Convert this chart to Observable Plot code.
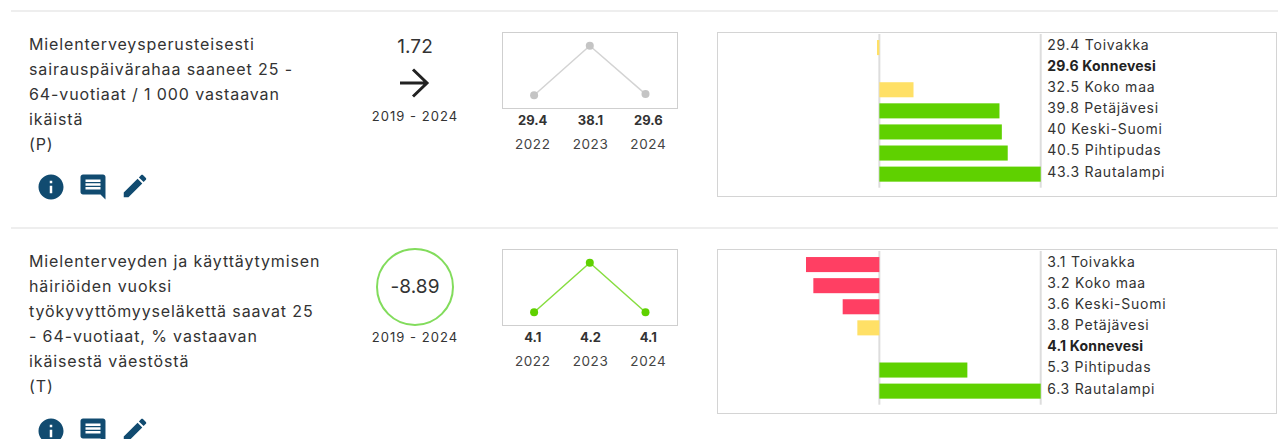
<!DOCTYPE html>
<html lang="fi">
<head>
<meta charset="utf-8">
<script src="https://cdn.jsdelivr.net/npm/d3@7"></script>
<script src="https://cdn.jsdelivr.net/npm/@observablehq/plot@0.6"></script>
<style>
html,body{margin:0;padding:0;background:#fff;}
#page{position:relative;width:1278px;height:439px;overflow:hidden;font-family:"Inter",sans-serif;color:#333;}
#page>*{position:absolute;}
.rule{left:11px;right:0;height:2px;background:#eeeeee;}
.title{left:29px;width:320px;font-size:16px;line-height:25px;letter-spacing:.88px;white-space:nowrap;}
.num{width:100px;text-align:center;font-size:19px;line-height:24px;letter-spacing:.1px;}
.period{width:120px;text-align:center;font-size:13px;line-height:18px;letter-spacing:1.05px;}
.circle{box-sizing:border-box;width:78px;height:78px;border:2px solid #82dc5c;border-radius:50%;}
svg.icon{width:30px;height:30px;fill:#114b70;}
.row-label text{letter-spacing:.75px;}
.row-home text{letter-spacing:.2px;}
.year-label text{letter-spacing:.6px;}
</style>
</head>
<body>
<div id="page"></div>
<script>
const years = ["2022", "2023", "2024"];
const period = "2019 - 2024";

const title1 = ["Mielenterveysperusteisesti", "sairauspäivärahaa saaneet 25 -", "64-vuotiaat / 1 000 vastaavan", "ikäistä", "(P)"];
const change1 = "1.72";
const trend1 = [29.4, 38.1, 29.6];
const names1 = ["Toivakka", "Konnevesi", "Koko maa", "Petäjävesi", "Keski-Suomi", "Pihtipudas", "Rautalampi"];
const values1 = [29.4, 29.6, 32.5, 39.8, 40, 40.5, 43.3];
const classes1 = ["mid", "mid", "mid", "high", "high", "high", "high"];

const title2 = ["Mielenterveyden ja käyttäytymisen", "häiriöiden vuoksi", "työkyvyttömyyseläkettä saavat 25", "- 64-vuotiaat, % vastaavan", "ikäisestä väestöstä", "(T)"];
const change2 = "-8.89";
const trend2 = [4.1, 4.2, 4.1];
const names2 = ["Toivakka", "Koko maa", "Keski-Suomi", "Petäjävesi", "Konnevesi", "Pihtipudas", "Rautalampi"];
const values2 = [3.1, 3.2, 3.6, 3.8, 4.1, 5.3, 6.3];
const classes2 = ["low", "low", "low", "mid", "mid", "high", "high"];

const home = "Konnevesi";
const FONT = "Inter, sans-serif";
const page = document.getElementById("page");

function place(el, left, top) {
  el.style.position = "absolute";
  el.style.left = left + "px";
  el.style.top = top + "px";
  el.style.background = "transparent";
  page.appendChild(el);
  return el;
}
function div(cls, left, top, html) {
  const d = document.createElement("div");
  d.className = cls;
  d.innerHTML = html;
  d.style.left = left + "px";
  d.style.top = top + "px";
  page.appendChild(d);
  return d;
}
function icon(path, left, top) {
  const h = `<svg class="icon" viewBox="0 0 24 24" style="position:absolute;left:${left}px;top:${top}px"><path d="${path}"/></svg>`;
  page.insertAdjacentHTML("beforeend", h);
}

function sparkline(values, color, top) {
  const data = years.map((year, i) => ({year, value: values[i]}));
  place(Plot.plot({
    width: 176, height: 77,
    marginTop: 13.3, marginBottom: 14.3, marginLeft: 0, marginRight: 0,
    x: {type: "point", domain: years, padding: 0, round: false, insetLeft: 31.6, insetRight: 33, axis: null},
    y: {domain: d3.extent(values), axis: null},
    style: {outline: "1.5px solid #cfcfcf", outlineOffset: "-1.5px", overflow: "visible"},
    marks: [
      Plot.line(data, {x: "year", y: "value", stroke: color, strokeWidth: 1.5, strokeOpacity: .75}),
      Plot.dot(data, {x: "year", y: "value", fill: color, r: 4})
    ]
  }), 501.5, top);
  place(Plot.plot({
    width: 176, height: 52,
    marginTop: 0, marginBottom: 0, marginLeft: 0, marginRight: 0,
    x: {type: "point", domain: years, padding: 0, round: false, inset: 30.2, axis: null},
    y: {domain: [0, 52], range: [0, 52], axis: null},
    marks: [
      Plot.text(data, {x: "year", y: () => 12, text: d => String(d.value), fontWeight: 700, fontSize: 13, fontFamily: FONT, fill: "#333"}),
      Plot.text(data, {x: "year", y: () => 36.5, text: "year", fontSize: 13.5, fontFamily: FONT, fill: "#444", className: "year-label"})
    ]
  }), 501.5, top + 76);
}

function compareBars(names, values, classes, top) {
  const base = values[names.indexOf(home)];
  const data = names.map((name, i) => ({name, value: values[i], diff: +(values[i] - base).toFixed(2), cls: classes[i]}));
  const extent = d3.max(data, d => Math.abs(d.diff));
  const label = d => `${d.value} ${d.name}`;
  const textOpts = {x: () => extent, y: "name", text: label, dx: 6, dy: -2.6, textAnchor: "start", fontSize: 14, fontFamily: FONT, fill: "#333"};
  place(Plot.plot({
    width: 560, height: 165,
    marginTop: 2, marginBottom: 9.3, marginLeft: 1, marginRight: 236.3,
    x: {domain: [-extent, extent], axis: null},
    y: {domain: names, padding: 0.286, round: false, axis: null},
    color: {domain: ["low", "mid", "high"], range: ["#ff3f63", "#ffe066", "#5fd100"]},
    style: {outline: "1.5px solid #d4d4d4", outlineOffset: "-1.5px", overflow: "visible"},
    marks: [
      Plot.ruleX([0, extent], {stroke: "#dddddd", strokeWidth: 2, dx: -0.5}),
      Plot.barX(data, {x1: () => 0, x2: "diff", y: "name", fill: "cls"}),
      Plot.text(data.filter(d => d.name !== home), {...textOpts, className: "row-label"}),
      Plot.text(data.filter(d => d.name === home), {...textOpts, fontWeight: 700, fill: "#222", className: "row-home"})
    ]
  }), 717, top);
}

const INFO = "M12 2C6.48 2 2 6.48 2 12s4.48 10 10 10 10-4.48 10-10S17.52 2 12 2zm1 15h-2v-6h2v6zm0-8h-2V7h2v2z";
const COMMENT = "M21.99 4c0-1.1-.89-2-1.99-2H4c-1.1 0-2 .9-2 2v12c0 1.1.9 2 2 2h14l4 4-.01-18zM18 14H6v-2h12v2zm0-3H6V9h12v2zm0-3H6V6h12v2z";
const EDIT = "M3 17.25V21h3.75L17.81 9.94l-3.75-3.75L3 17.25zM20.71 7.04c.39-.39.39-1.02 0-1.41l-2.34-2.34c-.39-.39-1.02-.39-1.41 0l-1.83 1.83 3.75 3.75 1.83-1.83z";
function icons(top) {
  icon(INFO, 35.8, top);
  icon(COMMENT, 77.5, top);
  icon(EDIT, 119.6, top - .9);
}

// Row 1
div("rule", 11, 10, "");
div("title", 29, 31.5, title1.join("<br>"));
div("num", 365, 34.5, change1);
page.insertAdjacentHTML("beforeend", `<svg width="34" height="34" viewBox="0 0 34 34" style="position:absolute;left:397px;top:66px" fill="none" stroke="#222" stroke-width="3"><path d="M3 17H29M16 3.5 30 17 16 30.5"/></svg>`);
div("period", 355, 107, period);
sparkline(trend1, "#c4c4c4", 32);
compareBars(names1, values1, classes1, 31.5);
icons(171.5);

// Row 2
div("rule", 11, 227, "");
div("title", 29, 249, title2.join("<br>"));
div("circle", 376, 248, "");
div("num", 365, 274.5, change2);
div("period", 355, 327.5, period);
sparkline(trend2, "#5fd100", 249);
compareBars(names2, values2, classes2, 248.5);
icons(415.5);
</script>
</body>
</html>
